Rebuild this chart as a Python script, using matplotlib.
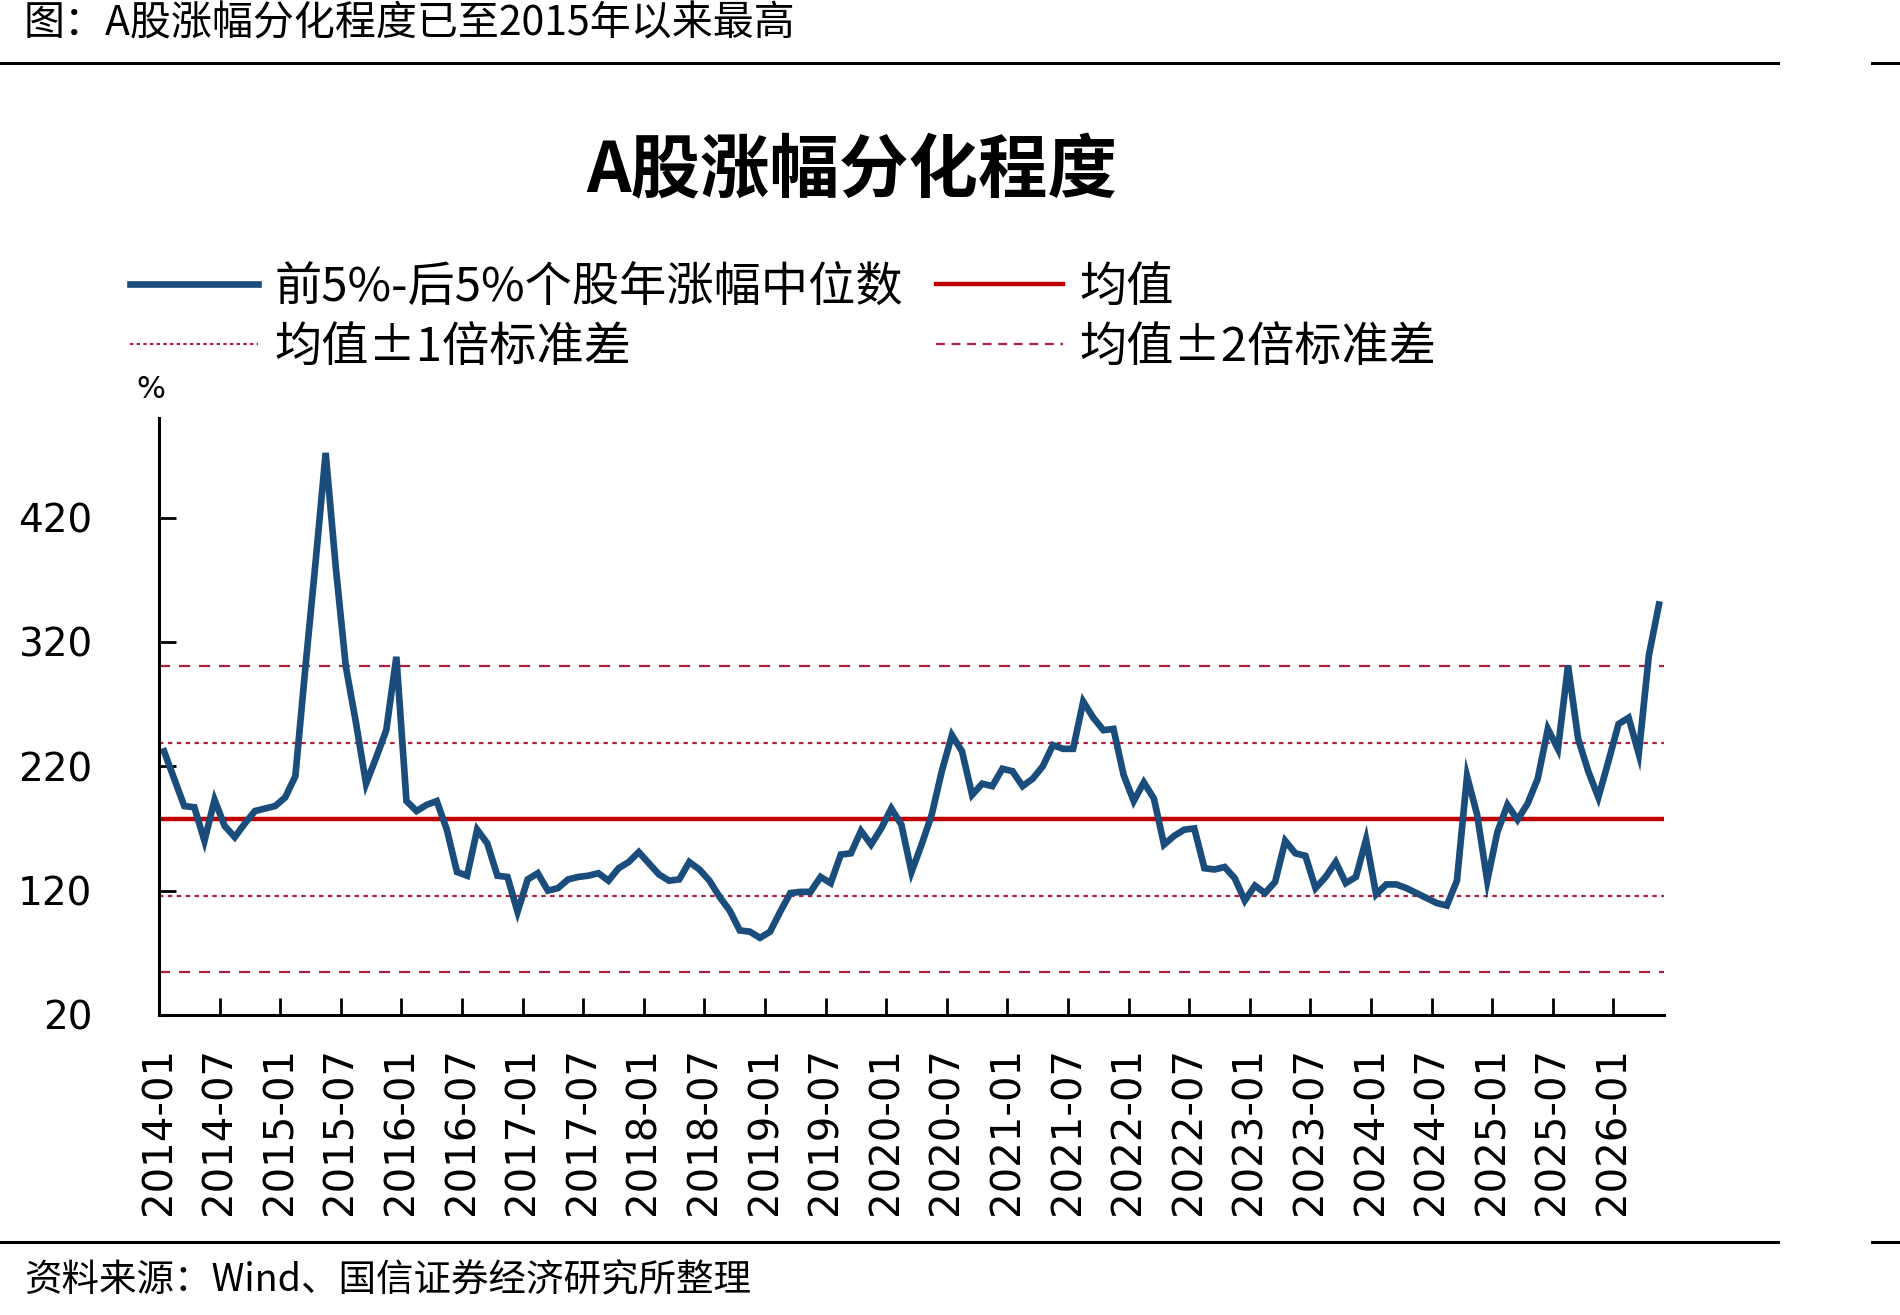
import numpy as np
import matplotlib
matplotlib.use("Agg")
from matplotlib import pyplot as plt
from matplotlib.lines import Line2D

plt.rcParams['font.family'] = ['Noto Sans CJK SC', 'DejaVu Sans']

# monthly values, 2014-01 .. 2026-05 (%)
spread = [
    232, 210, 188, 187, 160, 193, 172, 163, 174, 184, 186, 188,
    195, 212, 300, 384, 472, 380, 300, 255, 206, 227, 249, 308,
    192, 184, 189, 192, 169, 135, 132, 169, 158, 132, 131, 103,
    129, 134, 120, 122, 129, 131, 132, 134, 128, 138, 143, 151,
    142, 133, 128, 129, 143, 137, 128, 115, 104, 88, 87, 82,
    87, 103, 118, 119, 119, 131, 126, 149, 150, 168, 157, 170,
    186, 173, 135, 157, 181, 216, 245, 232, 197, 206, 204, 218,
    216, 204, 210, 220, 237, 234, 234, 272, 259, 249, 250, 213,
    192, 207, 194, 157, 164, 169, 170, 138, 137, 139, 130, 112,
    124, 118, 127, 160, 150, 148, 122, 131, 143, 126, 131, 161,
    117, 125, 125, 122, 118, 114, 110, 108, 128, 212, 181, 128,
    167, 189, 177, 190, 210, 250, 234, 301, 242, 216, 195, 224,
    254, 259, 230, 309, 350,
]
mean_val = 177.5
std_val = 61.5

tick_labels = [
    "2014-01", "2014-07", "2015-01", "2015-07", "2016-01", "2016-07",
    "2017-01", "2017-07", "2018-01", "2018-07", "2019-01", "2019-07",
    "2020-01", "2020-07", "2021-01", "2021-07", "2022-01", "2022-07",
    "2023-01", "2023-07", "2024-01", "2024-07", "2025-01", "2025-07",
    "2026-01",
]
y_ticks = [20, 120, 220, 320, 420]

W, H = 1900, 1315
fig = plt.figure(figsize=(W / 100, H / 100), dpi=100)
ax = fig.add_axes([159 / W, 1 - 1015 / H, 1505 / W, (1015 - 418) / H])

n = len(spread)
x = np.arange(n) + 0.5

blue = "#1a4d7c"
red = "#c00000"
dred = "#b0203c"

ax.axhline(mean_val + 2 * std_val, color=dred, lw=1.6, ls=(0, (5, 4)))
ax.axhline(mean_val - 2 * std_val, color=dred, lw=1.6, ls=(0, (5, 4)))
ax.axhline(mean_val + std_val, color=dred, lw=1.6, ls=(0, (2, 2)))
ax.axhline(mean_val - std_val, color=dred, lw=1.6, ls=(0, (2, 2)))
ax.axhline(mean_val, color=red, lw=3.2)
ax.plot(x, spread, color=blue, lw=4.8, solid_joinstyle="miter")

ax.set_xlim(0, n)
ax.set_ylim(20, 500)
ax.set_yticks(y_ticks)
ax.set_yticklabels([str(v) for v in y_ticks], family="DejaVu Sans", fontsize=28)
ax.set_xticks(np.arange(0, n, 6))
ax.set_xticklabels(tick_labels, rotation=90, family="DejaVu Sans", fontsize=29)
ax.tick_params(axis="y", direction="in", length=12, width=2, pad=48)
ax.tick_params(axis="x", direction="in", length=12, width=2, pad=23)
for s in ["top", "right"]:
    ax.spines[s].set_visible(False)
for s in ["left", "bottom"]:
    ax.spines[s].set_linewidth(2.2)

fig.text(151 / W, 1 - 390 / H, "%", ha="center", va="center",
         family="DejaVu Sans", fontsize=22)

fig.text(852 / W, 1 - 172 / H, "A股涨幅分化程度", ha="center", va="center",
         fontsize=50, fontweight="bold")

handles = [
    Line2D([], [], color=blue, lw=4.8),
    Line2D([], [], color=dred, lw=1.6, ls=(0, (1.5, 1.5))),
    Line2D([], [], color=red, lw=3.2),
    Line2D([], [], color=dred, lw=1.6, ls=(0, (4, 3))),
]
labels = ["前5%-后5%个股年涨幅中位数", "均值±1倍标准差", "均值", "均值±2倍标准差"]
fig.legend(handles, labels, ncol=2, loc="upper left",
           bbox_to_anchor=(130 / W, 1 - 263 / H), frameon=False,
           fontsize=34, handlelength=2.7, handletextpad=0.35,
           columnspacing=0.7, labelspacing=0.25, borderpad=0, borderaxespad=0)

# header / footer
fig.text(24 / W, 1 - 24 / H, "图：A股涨幅分化程度已至2015年以来最高",
         ha="left", va="center", fontsize=29.5)
fig.text(24 / W, 1 - 1281 / H, "资料来源：Wind、国信证券经济研究所整理",
         ha="left", va="center", fontsize=27)
for yy in (63, 1242):
    fig.add_artist(Line2D([0, 1778 / W], [1 - yy / H] * 2, color="black", lw=2.2))
    fig.add_artist(Line2D([1872 / W, 1], [1 - yy / H] * 2, color="black", lw=2.2))

fig.savefig("out.png", dpi=100)
